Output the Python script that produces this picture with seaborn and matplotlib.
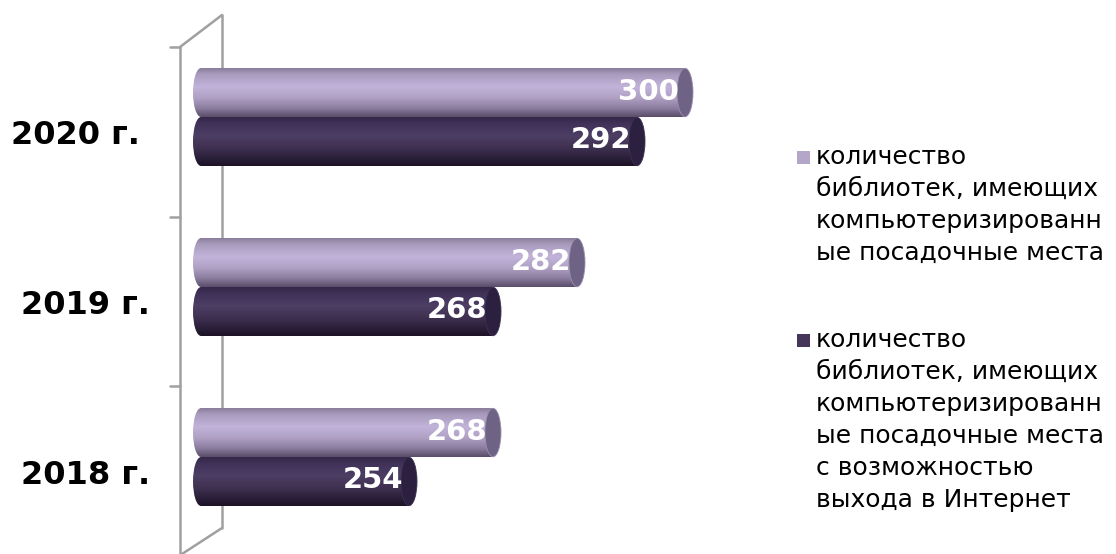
import numpy as np
import pandas as pd
import matplotlib
matplotlib.use("Agg")
import matplotlib.pyplot as plt
import matplotlib.colors as mcolors
from matplotlib.patches import Ellipse, Rectangle
from matplotlib.lines import Line2D
import seaborn as sns

# --- data ---
years = ["2020 г.", "2019 г.", "2018 г."]
comp_places = [300, 282, 268]
internet_places = [292, 268, 254]
series_names = [
    "количество\nбиблиотек, имеющих\nкомпьютеризированн\nые посадочные места",
    "количество\nбиблиотек, имеющих\nкомпьютеризированн\nые посадочные места\nс возможностью\nвыхода в Интернет",
]

# --- style ---
LIGHT = "#b4a6c8"
DARK = "#45365a"
LIGHT_STOPS = [(0.0, "#8a7e9c"), (0.12, "#a99bbd"), (0.38, "#c2b3da"),
               (0.62, "#ae9fc3"), (0.82, "#8c7e9f"), (1.0, "#5a4e6a")]
DARK_STOPS = [(0.0, "#35284a"), (0.15, "#42335a"), (0.38, "#4d3e64"),
              (0.62, "#403152"), (0.85, "#2a1f38"), (1.0, "#1c1326")]
LIGHT_CAP = "#6f6385"
DARK_CAP = "#2b2040"
WALL = "#a0a0a0"

W, H = 1116, 554
X_MIN, X_MAX = 218, 312.5
CAP_W = 16 / 6.0  # cap ellipse width in data units
BASE = X_MIN + CAP_W / 2

sns.set_style("white")
plt.rcParams["font.family"] = ["DejaVu Sans"]

df = pd.DataFrame({
    "year": years * 2,
    "value": comp_places + internet_places,
    "series": [series_names[0]] * 3 + [series_names[1]] * 3,
})


def gradient(stops, n=64):
    pos = np.array([s[0] for s in stops])
    cols = np.array([mcolors.to_rgb(s[1]) for s in stops])
    t = np.linspace(0, 1, n)
    rgb = np.stack([np.interp(t, pos, cols[:, i]) for i in range(3)], axis=1)
    return rgb[:, None, :]


fig = plt.figure(figsize=(W / 100, H / 100), dpi=100)
ax = fig.add_axes([193 / W, (H - 542) / H, (760 - 193) / W, 510 / H])
ax.patch.set_alpha(0)

sns.barplot(data=df, y="year", x="value", hue="series", hue_order=series_names,
            orient="h", palette=[LIGHT, DARK], saturation=1, width=0.576,
            legend=False, ax=ax)

light_rgba = mcolors.to_rgba(LIGHT)
for p in list(ax.patches):
    x1 = p.get_x() + p.get_width()
    y0, h = p.get_y(), p.get_height()
    yc = y0 + h / 2
    is_light = np.allclose(p.get_facecolor(), light_rgba)
    stops = LIGHT_STOPS if is_light else DARK_STOPS
    # bar body starts at the base of the cylinder
    p.set_x(BASE)
    p.set_width(x1 - BASE)
    p.set_edgecolor("none")
    ax.imshow(gradient(stops), extent=(BASE, x1, y0 + h, y0), origin="upper",
              aspect="auto", zorder=2, interpolation="bilinear")
    # rounded back end
    back = Ellipse((BASE, yc), CAP_W, h, transform=ax.transData)
    im = ax.imshow(gradient(stops), extent=(X_MIN, BASE + 0.1, y0 + h, y0),
                   origin="upper", aspect="auto", zorder=2,
                   interpolation="bilinear")
    im.set_clip_path(back)
    # front end face
    ax.add_patch(Ellipse((x1, yc), CAP_W, h * 0.99,
                         facecolor=LIGHT_CAP if is_light else DARK_CAP,
                         edgecolor="#9a8fae" if is_light else "#3c2f50",
                         lw=0.6, zorder=3))
    ax.annotate(f"{int(round(x1))}", xy=(x1, yc),
                xytext=(-6, 1), textcoords="offset pixels",
                ha="right", va="center", color="white",
                fontsize=21, fontweight="bold", zorder=4)

ax.set_xlim(X_MIN, X_MAX)
ax.set_ylim(2.5, -0.5)
ax.axis("off")


def px(x, y):
    return x / W, 1 - y / H


# 3D wall on the left
wall = [((222, 222), (15, 528)), ((180, 180), (47, 554)),
        ((180, 222), (47, 15)), ((222, 182), (528, 554)),
        ((170, 180), (47, 47)), ((170, 180), (217, 217)),
        ((170, 180), (386, 386))]
for xs, ys in wall:
    fig.add_artist(Line2D([x / W for x in xs], [1 - y / H for y in ys],
                          color=WALL, lw=1.8, zorder=-1))

# category labels
label_pos = [(140, 136), (150, 305), (150, 475)]
for yr, (lx, ly) in zip(years, label_pos):
    fig.text(*px(lx, ly), yr, ha="right", va="center", fontsize=23,
             fontweight="bold", color="black")

# legend
legend_tops = [157, 340]
for name, col, top in zip(series_names, [LIGHT, DARK], legend_tops):
    fig.add_artist(Rectangle(px(797, top + 6.5), 13 / W, 13 / H,
                             transform=fig.transFigure, facecolor=col,
                             edgecolor="none"))
    for i, line in enumerate(name.split("\n")):
        fig.text(*px(816, top + 32 * i), line, ha="left", va="center",
                 fontsize=18, color="black")

fig.savefig("out.png", dpi=100)
